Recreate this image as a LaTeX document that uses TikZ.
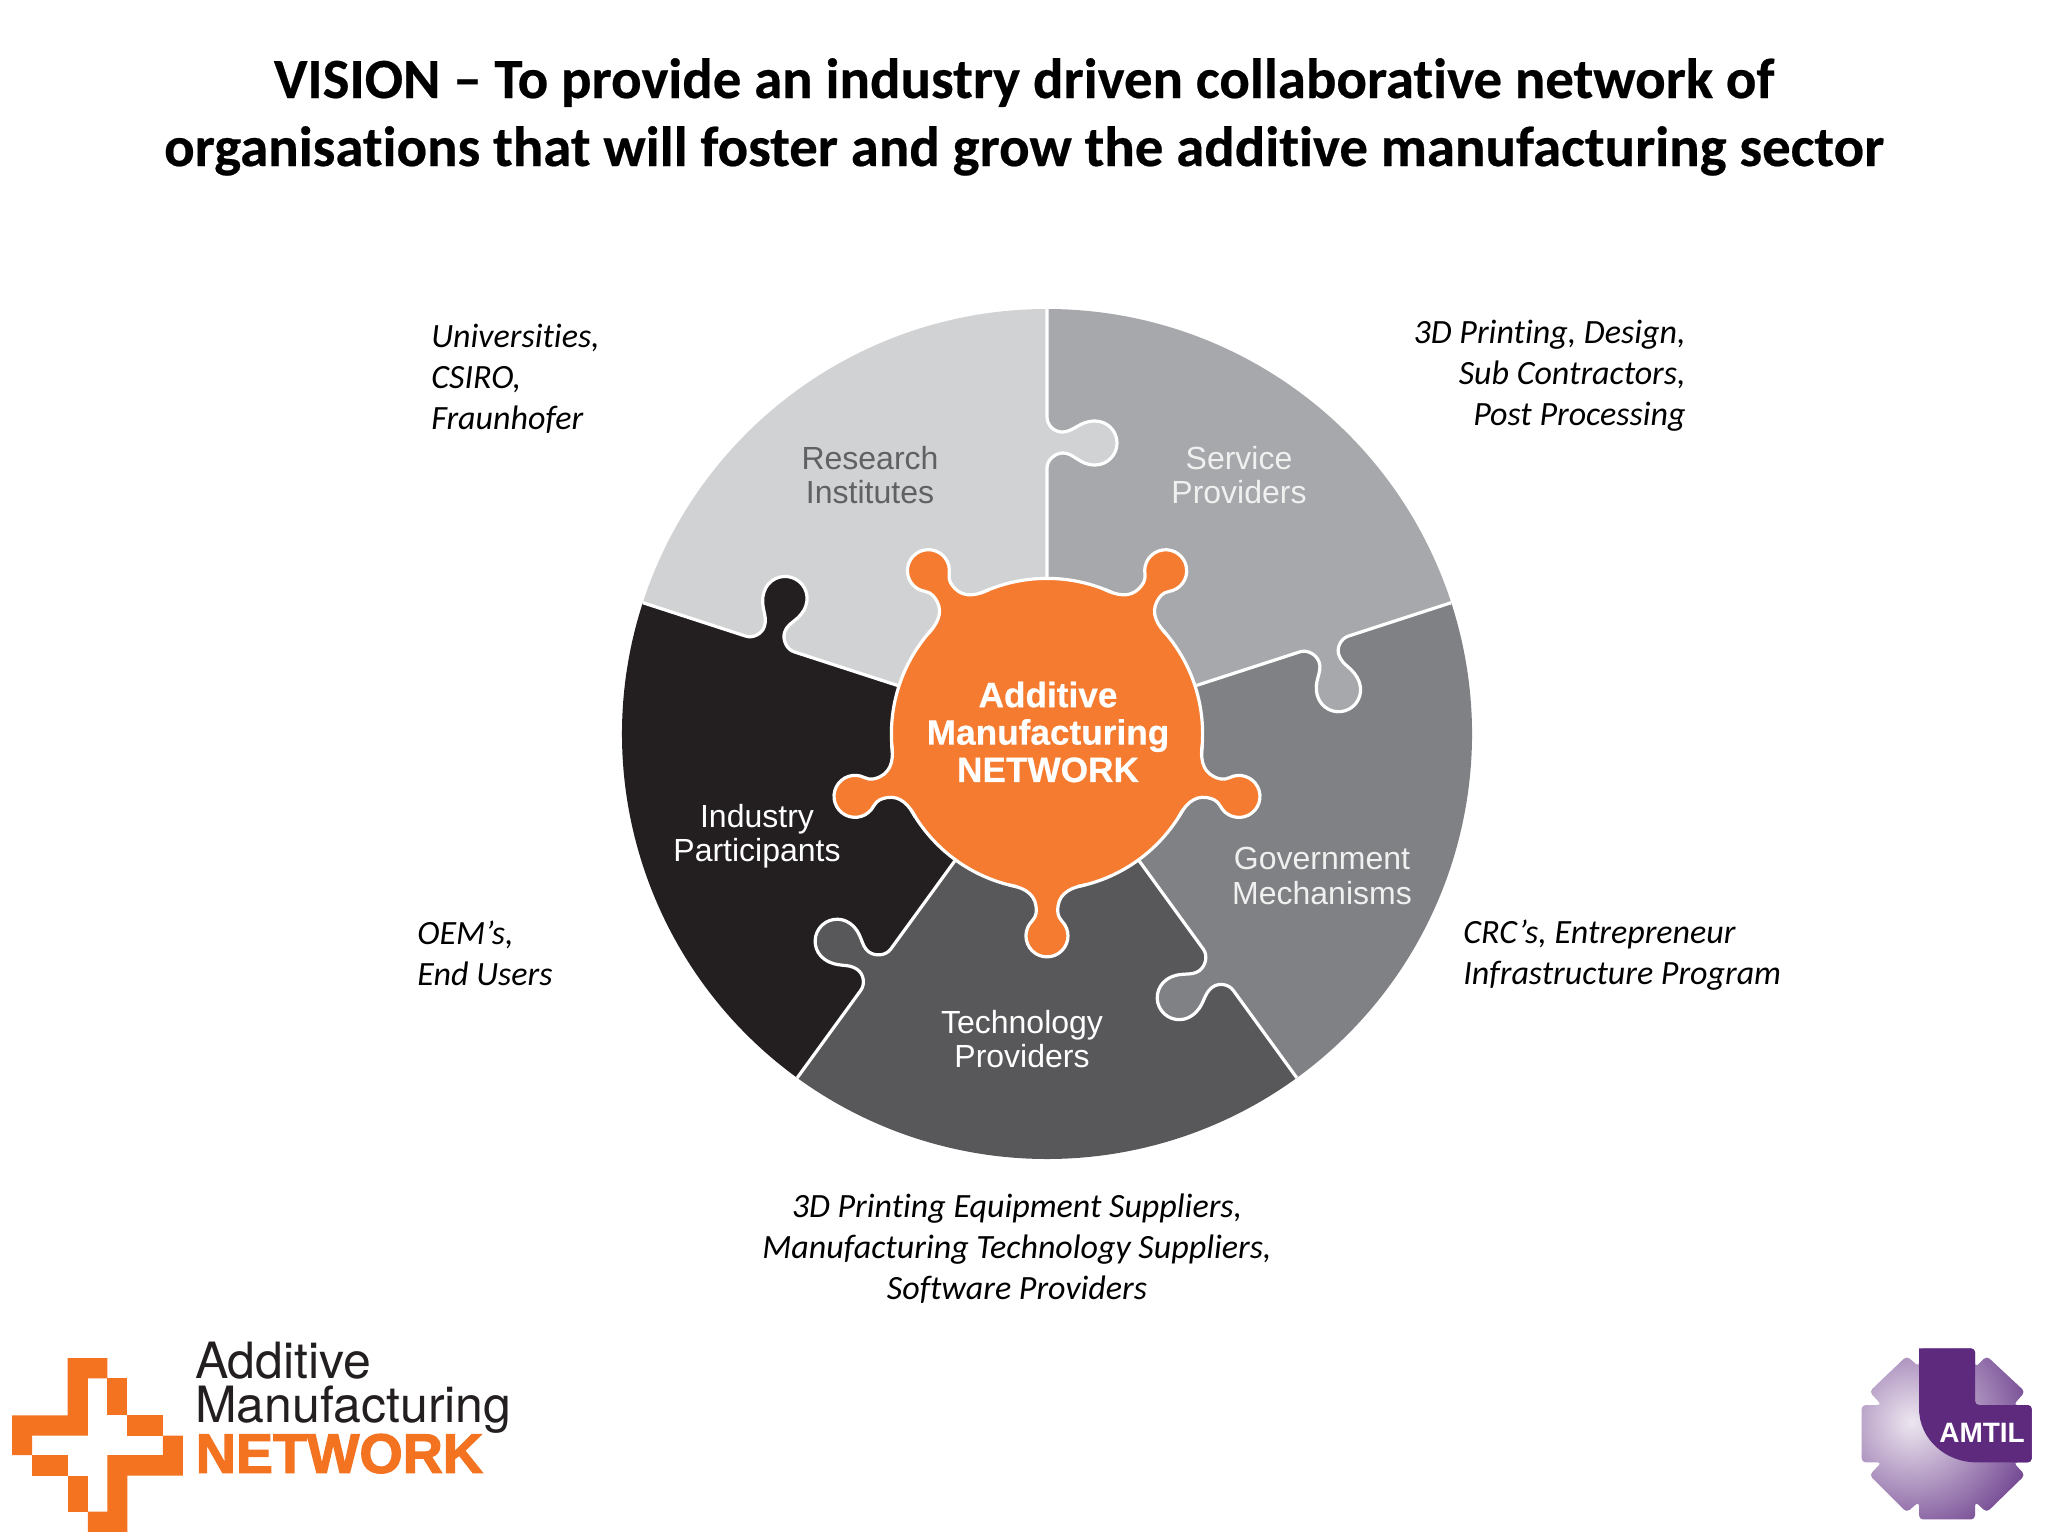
\documentclass[tikz,border=0pt]{standalone}
\usepackage{fontspec}
\setmainfont[Ligatures=NoCommon]{Carlito}
\newfontfamily\titlefont[Ligatures=NoCommon,FakeBold=0.4]{Carlito Bold}
\newfontfamily\wheelfont{Liberation Sans}
\newfontfamily\hubfont[FakeBold=0.5]{Liberation Sans Bold}
\newfontfamily\logofont{TeX Gyre Heros}
\newfontfamily\heavyfont[FakeBold=2.2]{Liberation Sans Bold}
\definecolor{res}{HTML}{D1D2D4}
\definecolor{svc}{HTML}{A7A8AB}
\definecolor{gov}{HTML}{808184}
\definecolor{tech}{HTML}{58585A}
\definecolor{ind}{HTML}{231F20}
\definecolor{hub}{HTML}{F47B30}
\definecolor{logoorange}{HTML}{F37321}
\definecolor{amdark}{HTML}{5E2A7E}
\definecolor{amlight}{HTML}{EDE6F0}
\definecolor{ammid}{HTML}{6B3D8C}
\def\seamknob{(266,0) .. controls (274,0) and (281,-8) .. (281,-16) .. controls (281,-27) and (269,-32) .. (269,-48) arc[start angle=180,end angle=360,radius=22] .. controls (313,-32) and (302,-27) .. (302,-15) .. controls (302,-7) and (309,0) .. (317,0)}
\def\hubknob{(151,38) .. controls (153,26) and (158,13) .. (172,11) .. controls (177,10.4) and (182,10.2) .. (187,14.8) arc[start angle=135,end angle=-135,radius=21] .. controls (182,-10.2) and (177,-10.4) .. (172,-11) .. controls (158,-13) and (153,-26) .. (151,-38)}
\tikzset{
  seamline/.style={draw=white,line width=1.6pt},
  wheeltext/.style={font=\wheelfont\fontsize{16}{17.25}\selectfont,align=center,anchor=center},
  note/.style={font=\itshape\fontsize{17}{20.5}\selectfont,text=black,inner sep=0pt},
  titleline/.style={font=\titlefont\fontsize{28.4}{33}\selectfont,anchor=base,text=black}
}
\begin{document}
\begin{tikzpicture}[x=0.5pt,y=-0.5pt]
\useasboundingbox (0,0) rectangle (2048,1536);
\fill[white] (0,0) rectangle (2048,1536);
% title
\node[titleline] (t1) at (1024,98) {VISION – To provide an industry driven collaborative network of};
\node[titleline] (t2) at (1024,166) {organisations that will foster and grow the additive manufacturing sector};
% wheel
\begin{scope}[shift={(1047,734)},y=0.5pt]
  \foreach \a/\p in {90/svc,18/gov,-54/tech,-126/ind,162/res}{
    \begin{scope}[rotate=\a]
      \fill[\p] (0,0) -- (425,0) arc[start angle=0,end angle=-72,radius=425] -- cycle;
    \end{scope}
  }
  \foreach \a/\k in {90/res,18/svc,-54/gov,-126/tech,162/ind}{
    \begin{scope}[rotate=\a]
      \fill[\k] \seamknob -- (317,3) -- (266,3) -- cycle;
      \draw[seamline] (150,0) -- (266,0) \seamknob -- (425,0);
    \end{scope}
  }
  \fill[hub,draw=white,line width=1.6pt] (0,0) circle[radius=155.6];
  \foreach \a in {54,126,198,270,342}{
    \begin{scope}[rotate=\a]
      \fill[hub] \hubknob -- cycle;
      \draw[seamline] \hubknob;
    \end{scope}
  }
\end{scope}
% wheel labels
\node[wheeltext,text=black!62] (nres) at (870,475) {Research\\Institutes};
\node[wheeltext,text=black!6] (nsvc) at (1239,475) {Service\\Providers};
\node[wheeltext,text=black!6] (ngov) at (1322,876) {Government\\Mechanisms};
\node[wheeltext,text=white] (ntech) at (1022,1039) {Technology\\Providers};
\node[wheeltext,text=white] (nind) at (757,836) {Industry\\Participants};
\node[font=\hubfont\fontsize{17.6}{18.7}\selectfont,align=center,text=white] (nhub) at (1048,732) {Additive\\Manufacturing\\NETWORK};
% side notes
\node[note,align=left,anchor=west] (a1) at (431,379) {Universities,\\CSIRO,\\Fraunhofer};
\node[note,align=right,anchor=east] (a2) at (1686,376) {3D Printing, Design,\\Sub Contractors,\\Post Processing};
\node[note,align=left,anchor=west] (a3) at (417,953) {OEM’s,\\End Users};
\node[note,align=left,anchor=west] (a4) at (1463,955.5) {CRC’s, Entrepreneur\\Infrastructure Program};
\node[note,align=center] (a5) at (1017,1249) {3D Printing Equipment Suppliers,\\Manufacturing Technology Suppliers,\\Software Providers};
% AM logo
\begin{scope}[shift={(0,1320)},x=0.169pt,y=-0.169pt]
  \fill[logoorange] (200,113) -- (318,113) -- (318,173) -- (260,173) -- (260,342) -- (95,342) -- (95,400) -- (36,400) -- (36,282) -- (200,282) -- cycle;
  \fill[logoorange] (318,173) rectangle (377,282);
  \fill[logoorange] (377,282) rectangle (482,342);
  \fill[logoorange] (482,342) -- (541,342) -- (541,460) -- (377,460) -- (377,627) -- (260,627) -- (260,567) -- (318,567) -- (318,400) -- (482,400) -- cycle;
  \fill[logoorange] (95,400) rectangle (200,460);
  \fill[logoorange] (200,460) rectangle (260,567);
  \node[font=\logofont\fontsize{25}{21.8}\selectfont,align=left,anchor=south west,inner sep=0pt,text=ind] (l1) at (576,336) {Additive\\Manufacturing};
  \node[font=\heavyfont\fontsize{27.8}{27}\selectfont,anchor=base west,inner sep=0pt,text=logoorange] (l3) at (578,452) {NETWORK};
\end{scope}
% AMTIL logo
\begin{scope}[shift={(1840,1330)},x=0.1667pt,y=-0.1667pt]
  \begin{scope}
    \clip[rounded corners=2pt] (65,225) -- (125,225) -- (88,185) -- (200,78) -- (237,110) -- (237,55) -- (405,55) -- (405,112) -- (440,78) -- (555,185) -- (520,225) -- (575,225) -- (575,397) -- (520,397) -- (555,435) -- (440,547) -- (405,515) -- (405,568) -- (237,568) -- (237,515) -- (200,547) -- (88,435) -- (125,397) -- (65,397) -- cycle;
    \shade[inner color=amlight,outer color=ammid] (215,275) circle[radius=400];
  \end{scope}
  \fill[amdark,rounded corners=2pt] (237,55) -- (405,55) -- (405,225) -- (575,225) -- (575,397) -- (420,397) [sharp corners] .. controls (320,397) and (237,330) .. (237,235) -- cycle;
  \node[font=\wheelfont\bfseries\fontsize{14}{15}\selectfont,text=white,inner sep=0pt] (am) at (426,308) {AMTIL};
\end{scope}
\end{tikzpicture}
\end{document}
